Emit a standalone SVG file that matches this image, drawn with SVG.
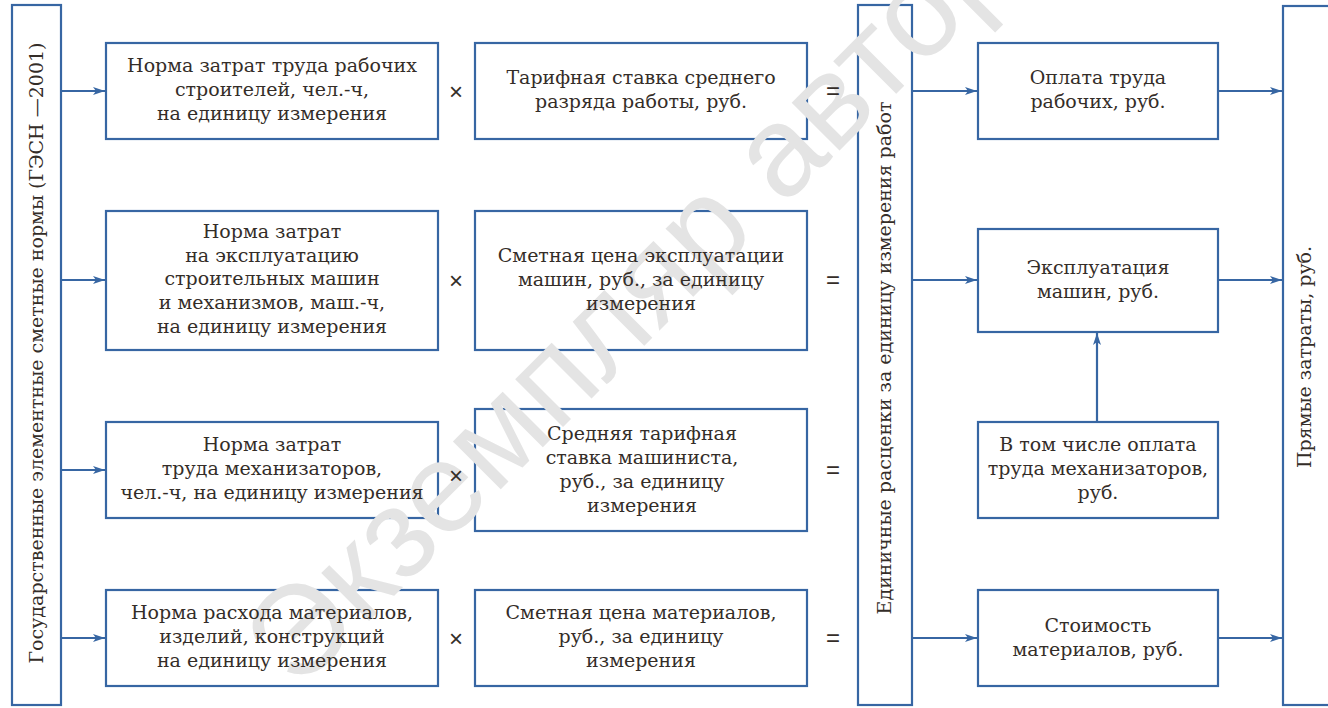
<svg xmlns="http://www.w3.org/2000/svg" width="1328" height="708" viewBox="0 0 1328 708">
<style>
.box{fill:none;stroke:#3766a3;stroke-width:2.2}
.t{font-family:"DejaVu Serif","Liberation Serif",serif;font-size:19px;fill:#342d28;text-anchor:middle}
.op{font-family:"Liberation Sans","DejaVu Sans",sans-serif;font-size:24px;fill:#342d28;text-anchor:middle}
.wm{font-family:"Liberation Sans",sans-serif;font-size:128px;fill:#e4e4e4}
.c{stroke:#3766a3;stroke-width:2.2;fill:none}
</style>
<defs>
<marker id="ah" viewBox="0 0 12 8" refX="12" refY="4" markerWidth="12" markerHeight="8" markerUnits="userSpaceOnUse" orient="auto">
<path d="M0,0 L12,4 L0,8 L3,4 Z" fill="#3766a3"/>
</marker>
</defs>
<rect width="1328" height="708" fill="#ffffff"/>

<g id="connectors">
<line class="c" x1="61" y1="91" x2="105" y2="91" marker-end="url(#ah)"/>
<line class="c" x1="61" y1="280" x2="105" y2="280" marker-end="url(#ah)"/>
<line class="c" x1="61" y1="470" x2="105" y2="470" marker-end="url(#ah)"/>
<line class="c" x1="61" y1="638" x2="105" y2="638" marker-end="url(#ah)"/>
<line class="c" x1="912" y1="91" x2="977" y2="91" marker-end="url(#ah)"/>
<line class="c" x1="912" y1="280" x2="977" y2="280" marker-end="url(#ah)"/>
<line class="c" x1="912" y1="638" x2="977" y2="638" marker-end="url(#ah)"/>
<line class="c" x1="1218" y1="91" x2="1282" y2="91" marker-end="url(#ah)"/>
<line class="c" x1="1218" y1="280" x2="1282" y2="280" marker-end="url(#ah)"/>
<line class="c" x1="1218" y1="638" x2="1282" y2="638" marker-end="url(#ah)"/>
<line class="c" x1="1097" y1="422" x2="1097" y2="333" marker-end="url(#ah)"/>
</g>

<g id="frames">
<rect class="box" x="12" y="5" width="49" height="700"/>
<rect class="box" x="858" y="5" width="54" height="700"/>
<rect class="box" x="1283" y="6" width="60" height="699"/>
<rect class="box" x="106" y="43" width="332" height="96"/>
<rect class="box" x="106" y="211" width="332" height="139"/>
<rect class="box" x="106" y="422" width="332" height="96"/>
<rect class="box" x="106" y="590" width="332" height="96"/>
<rect class="box" x="475" y="43" width="332" height="96"/>
<rect class="box" x="475" y="211" width="332" height="139"/>
<rect class="box" x="475" y="409" width="332" height="122"/>
<rect class="box" x="475" y="590" width="332" height="96"/>
<rect class="box" x="978" y="43" width="240" height="96"/>
<rect class="box" x="978" y="229" width="240" height="103"/>
<rect class="box" x="978" y="422" width="240" height="96"/>
<rect class="box" x="978" y="590" width="240" height="96"/>
</g>

<text class="wm" transform="translate(298,692) rotate(-45)">Экземпляр автора</text>

<g id="gesn"><text class="t" transform="translate(43,353) rotate(-90)">Государственные элементные сметные нормы (ГЭСН —2001)</text></g>
<g id="edin"><text class="t" transform="translate(891,358) rotate(-90)">Единичные расценки за единицу измерения работ</text></g>
<g id="pryam"><text class="t" transform="translate(1311,357) rotate(-90)">Прямые затраты, руб.</text></g>

<g id="n1">
<text class="t" x="272" y="72">Норма затрат труда рабочих</text>
<text class="t" x="272" y="96">строителей, чел.-ч,</text>
<text class="t" x="272" y="120">на единицу измерения</text></g>
<g id="n2">
<text class="t" x="272" y="238">Норма затрат</text>
<text class="t" x="272" y="262">на эксплуатацию</text>
<text class="t" x="272" y="285">строительных машин</text>
<text class="t" x="272" y="309">и механизмов, маш.-ч,</text>
<text class="t" x="272" y="333">на единицу измерения</text></g>
<g id="n3">
<text class="t" x="272" y="451">Норма затрат</text>
<text class="t" x="272" y="475">труда механизаторов,</text>
<text class="t" x="272" y="499">чел.-ч, на единицу измерения</text></g>
<g id="n4">
<text class="t" x="272" y="619">Норма расхода материалов,</text>
<text class="t" x="272" y="643">изделий, конструкций</text>
<text class="t" x="272" y="667">на единицу измерения</text></g>

<g id="m1">
<text class="t" x="641" y="84">Тарифная ставка среднего</text>
<text class="t" x="641" y="108">разряда работы, руб.</text></g>
<g id="m2">
<text class="t" x="641" y="262">Сметная цена эксплуатации</text>
<text class="t" x="641" y="286">машин, руб., за единицу</text>
<text class="t" x="641" y="310">измерения</text></g>
<g id="m3">
<text class="t" x="642" y="440">Средняя тарифная</text>
<text class="t" x="642" y="464">ставка машиниста,</text>
<text class="t" x="642" y="488">руб.,  за единицу</text>
<text class="t" x="642" y="512">измерения</text></g>
<g id="m4">
<text class="t" x="641" y="619">Сметная цена материалов,</text>
<text class="t" x="641" y="643">руб.,  за единицу</text>
<text class="t" x="641" y="667">измерения</text></g>

<g id="r1">
<text class="t" x="1098" y="84">Оплата труда</text>
<text class="t" x="1098" y="108">рабочих, руб.</text></g>
<g id="r2">
<text class="t" x="1098" y="274">Эксплуатация</text>
<text class="t" x="1098" y="298">машин, руб.</text></g>
<g id="r3">
<text class="t" x="1098" y="451">В  том числе оплата</text>
<text class="t" x="1098" y="475">труда механизаторов,</text>
<text class="t" x="1098" y="499">руб.</text></g>
<g id="r4">
<text class="t" x="1098" y="632">Стоимость</text>
<text class="t" x="1098" y="656">материалов, руб.</text></g>

<g id="ops">
<text class="op" x="456" y="100">×</text>
<text class="op" x="456" y="289">×</text>
<text class="op" x="456" y="484">×</text>
<text class="op" x="456" y="647">×</text>
<text class="op" x="833" y="99">=</text>
<text class="op" x="833" y="288">=</text>
<text class="op" x="833" y="478">=</text>
<text class="op" x="833" y="646">=</text>
</g>
</svg>
